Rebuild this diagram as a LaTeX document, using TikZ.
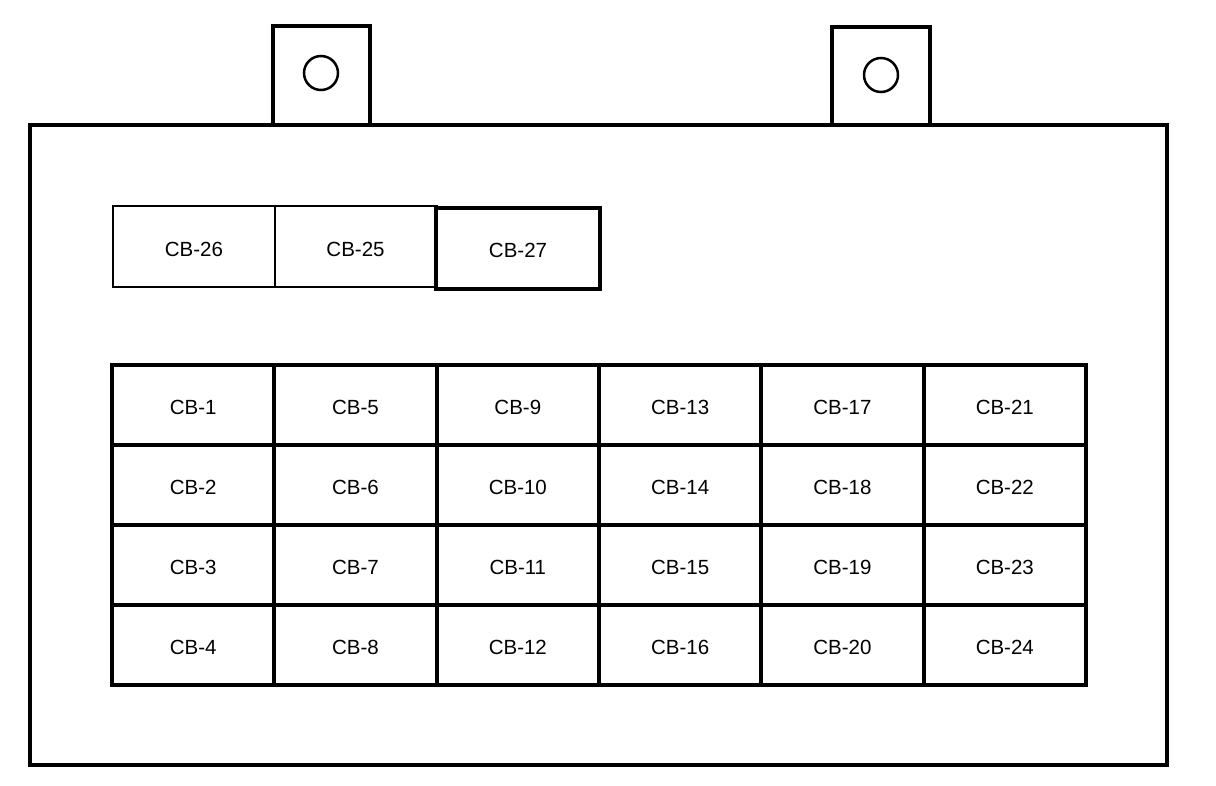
\documentclass[tikz,border=0pt]{standalone}
\usepackage{fontspec}
\setmainfont{Liberation Sans}
\begin{document}
\begin{tikzpicture}[x=1pt,y=-1pt,
  lbl/.style={font=\fontsize{20.5}{24}\selectfont,text height=19pt,text depth=0pt},
  cell/.style={lbl,draw=black,line width=4pt,minimum width=162.33pt,minimum height=80pt,inner sep=0pt},
  thincell/.style={lbl,draw=black,line width=2pt,minimum width=162pt,minimum height=81pt,inner sep=0pt},
  frame/.style={draw=black,line width=4pt},
  hole/.style={draw=black,line width=2.5pt}]
\useasboundingbox (0,0) rectangle (1216,786);
% housing
\draw[frame] (30,125) rectangle (1167,765);
% tabs
\draw[frame] (273,125) -- (273,26) -- (370,26) -- (370,125);
\draw[frame] (832,125) -- (832,27) -- (930,27) -- (930,125);
\node[hole,circle,minimum size=34pt,inner sep=0pt] (h1) at (321,73) {};
\node[hole,circle,minimum size=34pt,inner sep=0pt] (h2) at (881,75) {};
% upper row
\node[thincell] (cb26) at (194,247) {CB-26};
\node[thincell] (cb25) at (355.5,247) {CB-25};
\node[cell,line width=4.5pt,minimum width=164pt,minimum height=81pt] (cb27) at (518,248.5) {CB-27};
% main grid
\foreach \c in {0,...,5}{
  \foreach \r in {0,...,3}{
    \pgfmathtruncatemacro{\n}{\c*4+\r+1}
    \node[cell] (cb\n) at ({112+162.33*(\c+0.5)},{365+80*(\r+0.5)}) {CB-\n};
  }
}
\end{tikzpicture}
\end{document}
